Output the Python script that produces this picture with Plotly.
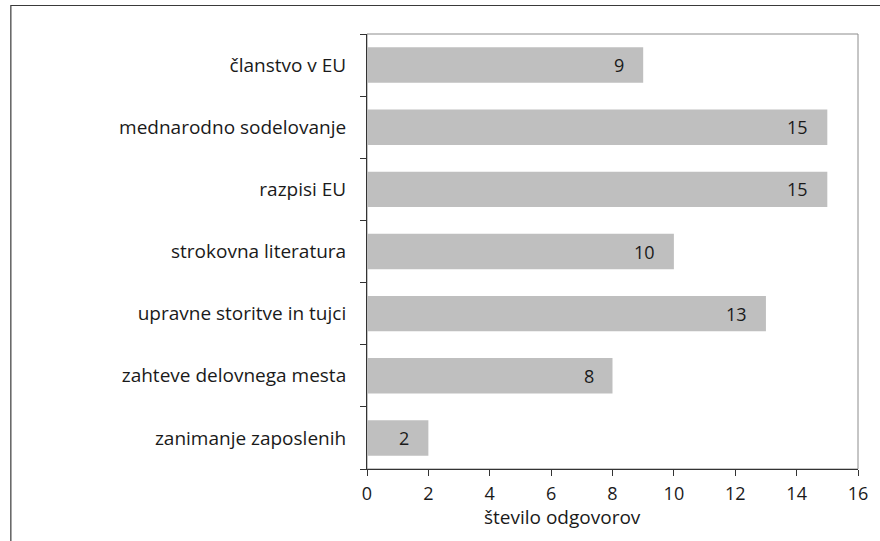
import plotly.graph_objects as go

categories = [
    "članstvo v EU",
    "mednarodno sodelovanje",
    "razpisi EU",
    "strokovna literatura",
    "upravne storitve in tujci",
    "zahteve delovnega mesta",
    "zanimanje zaposlenih",
]
values = [9, 15, 15, 10, 13, 8, 2]
x_ticks = [0, 2, 4, 6, 8, 10, 12, 14, 16]
x_title = "število odgovorov"

FONT = "'Open Sans', 'DejaVu Sans', sans-serif"
W, H = 880, 541
ML, MR, MT, MB = 367, 16, 34, 72
PW, PH = W - ML - MR, H - MT - MB

fig = go.Figure(
    go.Bar(
        x=values,
        y=categories,
        orientation="h",
        marker=dict(color="#bfbfbf", line=dict(width=0)),
        width=0.57,
        hoverinfo="x+y",
    )
)

def px_x(p):
    return (p - ML) / PW

def px_y(p):
    return 1 - (p - MT) / PH

# value labels inside the bar ends
value_labels = [
    dict(text=str(v), x=v, y=c, xref="x", yref="y", xanchor="right",
         yanchor="middle", xshift=-17, showarrow=False,
         font=dict(size=18, color="#1a1a1a"))
    for c, v in zip(categories, values)
]

fig.update_layout(
    width=W,
    height=H,
    margin=dict(l=ML, r=MR, t=MT, b=MB),
    paper_bgcolor="white",
    plot_bgcolor="white",
    showlegend=False,
    font=dict(family=FONT, size=18, color="#1a1a1a"),
    xaxis=dict(
        range=[0, 16],
        tickvals=x_ticks,
        ticktext=[str(t) for t in x_ticks],
        showgrid=False,
        zeroline=False,
        showline=True,
        linecolor="#333333",
        linewidth=1,
        ticks="outside",
        ticklen=6,
        tickcolor="#333333",
        ticklabelstandoff=2,
        tickfont=dict(size=18),
    ),
    yaxis=dict(
        categoryorder="array",
        categoryarray=categories[::-1],
        range=[-0.5, len(categories) - 0.5],
        showgrid=False,
        zeroline=False,
        showline=True,
        linecolor="#333333",
        linewidth=1,
        ticks="outside",
        tickson="boundaries",
        ticklen=6,
        tickcolor="#333333",
        ticklabelstandoff=16,
        tickfont=dict(size=19),
    ),
    shapes=[
        # plot frame
        dict(type="rect", xref="paper", yref="paper", x0=0, y0=0, x1=1, y1=1,
             line=dict(color="#8c8c8c", width=1), layer="below"),
        # outer chart border
        dict(type="rect", xref="paper", yref="paper",
             x0=px_x(6.5), y0=px_y(560), x1=px_x(900), y1=px_y(5.5),
             line=dict(color="#3a3a3a", width=1.2)),
    ],
    annotations=value_labels + [
        dict(text=x_title, xref="paper", yref="paper",
             x=px_x(565), y=px_y(517), xanchor="center", yanchor="middle",
             showarrow=False, font=dict(size=19, color="#1a1a1a")),
    ],
)

fig.write_html("out.html")
